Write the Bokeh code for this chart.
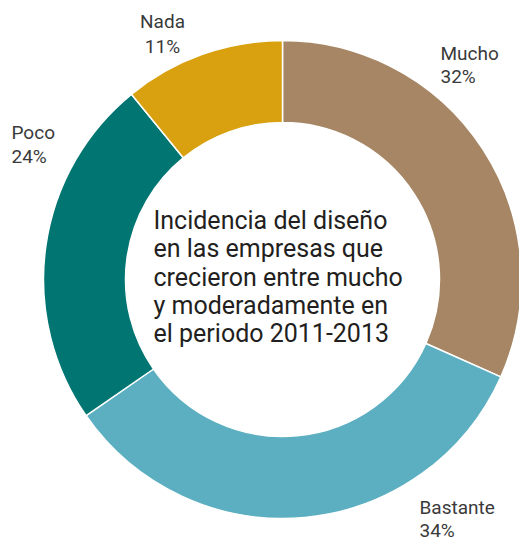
import numpy as np
from bokeh.plotting import figure
from bokeh.models import Range1d, ColumnDataSource
from bokeh.core.properties import value
from bokeh.embed import file_html
from bokeh.resources import INLINE

# ---- data ----
categories = ["Mucho", "Bastante", "Poco", "Nada"]
percents = [32, 34, 24, 11]
colors = ["#A68664", "#5BAFC0", "#007572", "#D9A00F"]
title_lines = [
    "Incidencia del diseño",
    "en las empresas que",
    "crecieron entre mucho",
    "y moderadamente en",
    "el periodo 2011-2013",
]

# ---- layout (picture pixel coordinates) ----
W, H = 519, 544
TXT_DY = 7  # compensation for baseline rendering
def Y(y_img):
    return H - y_img

def YT(y_img):
    return H - (y_img - TXT_DY)

cx, cy = 282, Y(279)
r_out, r_in = 239, 157

vals = np.array(percents, dtype=float)
frac = vals / vals.sum()
cum = np.cumsum(frac)
prev = np.concatenate([[0.0], cum[:-1]])
start = np.pi / 2 - 2 * np.pi * prev
end = np.pi / 2 - 2 * np.pi * cum

src = ColumnDataSource(dict(
    x=[cx] * len(categories), y=[cy] * len(categories),
    start=start, end=end, color=colors, cat=categories,
))

p = figure(width=W, height=H, output_backend="svg", toolbar_location=None,
           x_range=Range1d(0, W), y_range=Range1d(0, H),
           x_axis_location=None, y_axis_location=None, min_border=0,
           outline_line_color=None, background_fill_color="white",
           border_fill_color="white")
p.xgrid.visible = False
p.ygrid.visible = False

p.annular_wedge(x="x", y="y", inner_radius=r_in, outer_radius=r_out,
                start_angle="start", end_angle="end", direction="clock",
                fill_color="color", line_color="white", line_width=1.5,
                source=src)

# segment labels: (x, align, name baseline, pct baseline)
label_pos = {
    "Mucho": (440, "left", 60, 83),
    "Bastante": (419, "left", 514, 537),
    "Poco": (11, "left", 139, 163),
    "Nada": (162, "center", 28, 53),
}
for cat, pct in zip(categories, percents):
    lx, al, yb1, yb2 = label_pos[cat]
    p.text(x=[lx, lx], y=[YT(yb1), YT(yb2)], text=[cat, f"{pct}%"],
           text_font=value("Roboto"), text_font_size="19px",
           text_color="#3a3a3a", text_align=al, text_baseline="alphabetic")

# center title
ty = [YT(227 + i * 28.3) for i in range(len(title_lines))]
p.text(x=[153] * len(title_lines), y=ty, text=title_lines,
       text_font=value("Roboto"), text_font_size="25px",
       text_color="#231f20", text_align="left", text_baseline="alphabetic")

open("out.html", "w").write(file_html(p, INLINE))
